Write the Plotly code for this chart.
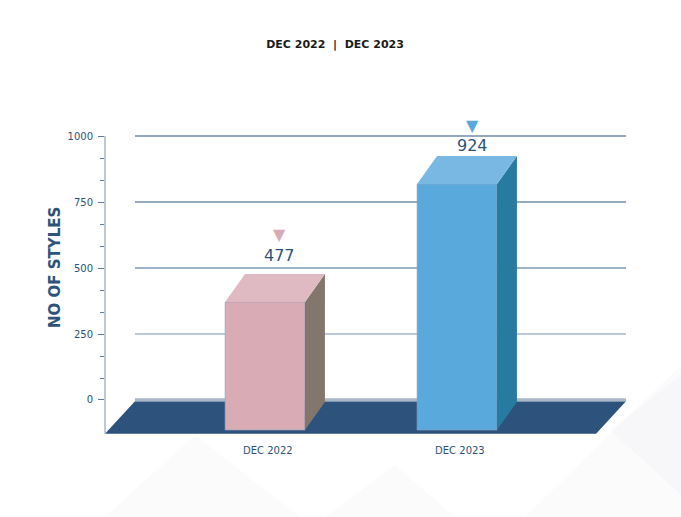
import plotly.graph_objects as go

# data
categories = ["DEC 2022", "DEC 2023"]
styles = [477, 924]
front_colors = ["#d9acb5", "#5aa9dc"]
top_colors = ["#dfbac2", "#79b8e3"]
side_colors = ["#83766d", "#287ba0"]
y_ticks = [0, 250, 500, 750, 1000]

# geometry (data units) for the fake 3d look
half_w = 0.208      # half width of the bar front face
bar_dx = 0.104      # depth offset of the bars
bar_dy = 106
bar_bottom = -114
floor_dx = 0.156
floor_front = -128
x_min, x_max = -0.8333, 1.880
y_min, y_max = -132.6, 1098.5

FONT = "DejaVu Sans"

fig = go.Figure()

# faint decorative background shapes (pixel -> paper)
def px(x, y):
    return (x - 105) / 521, (435 - y) / 325

bg_polys = [
    [(105, 517), (195, 435), (300, 517)],
    [(325, 517), (395, 465), (455, 517)],
    [(525, 517), (681, 365), (681, 517)],
    [(610, 430), (681, 375), (681, 495)],
]
for poly in bg_polys:
    pts = [px(*p) for p in poly]
    path = "M " + " L ".join(f"{a},{b}" for a, b in pts) + " Z"
    fig.add_shape(type="path", path=path, xref="paper", yref="paper",
                  fillcolor="rgba(228,233,237,0.16)", line_width=0, layer="below")

# gridlines on the back wall
grid_colors = ["#a9b7c8", "#7d96b6", "#3f6690", "#30557f", "#2d527c"]
back_left = x_min + floor_dx
for v, c in zip(y_ticks, grid_colors):
    fig.add_shape(type="line", xref="x", yref="y", x0=back_left, x1=x_max, y0=v, y1=v,
                  line=dict(color=c, width=3 if v == 0 else 1.2), layer="below")

# y axis line
fig.add_shape(type="line", xref="paper", yref="y", x0=0, x1=0, y0=1000, y1=floor_front,
              line=dict(color="#a9b7c8", width=1.5))

# floor
fig.add_trace(go.Scatter(
    x=[x_min, x_max - floor_dx, x_max, back_left, x_min],
    y=[floor_front, floor_front, -5, -5, floor_front],
    fill="toself", fillcolor="#2d527c", mode="lines", line=dict(width=0),
    hoverinfo="skip", showlegend=False))
fig.add_trace(go.Scatter(x=[back_left, x_max], y=[0, 0], mode="lines",
                         line=dict(color="#a9b7c8", width=3), hoverinfo="skip", showlegend=False))

# bars
for i, v in enumerate(styles):
    xl, xr = i - half_w, i + half_w
    ft = v - bar_dy
    # front
    fig.add_trace(go.Scatter(x=[xl, xr, xr, xl, xl], y=[bar_bottom, bar_bottom, ft, ft, bar_bottom],
                             fill="toself", fillcolor=front_colors[i], mode="lines",
                             line=dict(width=0.6, color="#8fa3bd"), hoverinfo="skip", showlegend=False))
    # side
    fig.add_trace(go.Scatter(x=[xr, xr + bar_dx, xr + bar_dx, xr, xr],
                             y=[bar_bottom, bar_bottom + bar_dy, v, ft, bar_bottom],
                             fill="toself", fillcolor=side_colors[i], mode="lines",
                             line=dict(width=0), hoverinfo="skip", showlegend=False))
    # top
    fig.add_trace(go.Scatter(x=[xl, xr, xr + bar_dx, xl + bar_dx, xl], y=[ft, ft, v, v, ft],
                             fill="toself", fillcolor=top_colors[i], mode="lines",
                             line=dict(width=0), hoverinfo="skip", showlegend=False))

# value labels and triangles
label_shift = [19, 11]
tri_shift = [40, 31]
for i, v in enumerate(styles):
    xc = i + 0.078
    fig.add_annotation(x=xc, y=v, text=str(v), showarrow=False, yshift=label_shift[i],
                       font=dict(size=16, color="#2d527c", family=FONT))
    fig.add_annotation(x=xc, y=v, text="▼", showarrow=False, yshift=tri_shift[i],
                       font=dict(size=16, color=front_colors[i], family=FONT))

# axis title
fig.add_annotation(x=-0.096, y=0.517, xref="paper", yref="paper", text="<b>NO OF STYLES</b>",
                   textangle=-90, showarrow=False, xanchor="center", yanchor="middle",
                   font=dict(size=15, color="#2d527c", family=FONT))

fig.update_layout(
    width=681, height=517,
    margin=dict(l=105, r=55, t=110, b=82),
    paper_bgcolor="white", plot_bgcolor="rgba(0,0,0,0)",
    title=dict(text="<b>DEC 2022  |  DEC 2023</b>", x=0.492, xanchor="center",
               y=0.915, yanchor="middle", font=dict(size=11, color="#1a1a1a", family=FONT)),
    xaxis=dict(range=[x_min, x_max], tickvals=[i + 0.015 for i in range(len(categories))],
               ticktext=categories, showgrid=False, zeroline=False, showline=False,
               ticks="", ticklabelstandoff=8,
               tickfont=dict(size=10, color="#2d527c", family=FONT)),
    yaxis=dict(range=[y_min, y_max], tickvals=y_ticks, showgrid=False, zeroline=False,
               showline=False, ticks="outside", ticklen=6, tickcolor="#5f7ea3",
               ticklabelstandoff=3,
               tickfont=dict(size=10, color="#2d527c", family=FONT),
               minor=dict(tickvals=[k * 1000 / 12 for k in range(13)], ticks="outside",
                          ticklen=4, tickcolor="#5f7ea3")),
    showlegend=False,
)

fig.write_html("out.html", config={"displayModeBar": False},
               post_script="document.body.style.margin='0';")
